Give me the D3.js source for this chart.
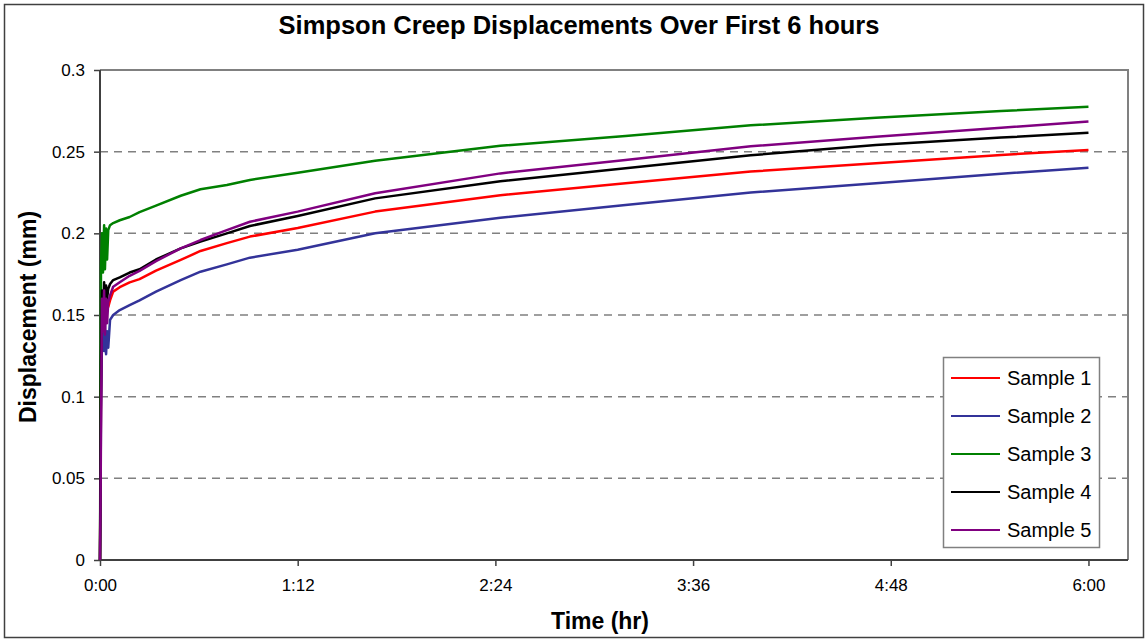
<!DOCTYPE html>
<html>
<head>
<meta charset="utf-8">
<script src="https://cdn.jsdelivr.net/npm/d3@7"></script>
<style>
  body { margin: 0; background: #fff; }
  svg { font-family: "Liberation Sans", Arial, sans-serif; }
</style>
</head>
<body>
<svg width="1148" height="642"></svg>
<script>
// time in hours
const times = [0, 0.003, 0.006, 0.012, 0.018, 0.025, 0.03, 0.037, 0.043, 0.05, 0.061, 0.08, 0.12, 0.18,
  0.24, 0.34, 0.49, 0.61, 0.77, 0.91, 1.2, 1.67, 2.43, 3.19, 3.95, 4.71, 5.47, 6.0];

const sample1 = [0, 0.05, 0.10, 0.14, 0.155, 0.15, 0.158, 0.152, 0.157, 0.155, 0.159, 0.1643, 0.167, 0.170,
  0.172, 0.1772, 0.1837, 0.1892, 0.194, 0.198, 0.2033, 0.2133, 0.2233, 0.2306, 0.2378, 0.2429, 0.248, 0.251];
const sample2 = [0, 0.04, 0.09, 0.135, 0.15, 0.128, 0.145, 0.126, 0.14, 0.13, 0.147, 0.150, 0.153, 0.156,
  0.159, 0.1643, 0.1714, 0.1765, 0.181, 0.1851, 0.190, 0.200, 0.2095, 0.2173, 0.225, 0.2306, 0.2365, 0.2402];
const sample3 = [0, 0.09, 0.18, 0.20, 0.176, 0.205, 0.178, 0.203, 0.184, 0.202, 0.205, 0.2063, 0.208, 0.210,
  0.213, 0.217, 0.223, 0.227, 0.2296, 0.2327, 0.2371, 0.2445, 0.2536, 0.2596, 0.2661, 0.2708, 0.2749, 0.2775];
const sample4 = [0, 0.06, 0.12, 0.165, 0.145, 0.17, 0.155, 0.168, 0.16, 0.166, 0.169, 0.1714, 0.173, 0.176,
  0.178, 0.184, 0.1908, 0.1949, 0.200, 0.2045, 0.2106, 0.2214, 0.2319, 0.2398, 0.2478, 0.2541, 0.2586, 0.2616];
const sample5 = [0, 0.03, 0.08, 0.16, 0.14, 0.165, 0.138, 0.16, 0.145, 0.158, 0.162, 0.1673, 0.170, 0.174,
  0.177, 0.183, 0.1908, 0.1959, 0.202, 0.2071, 0.2133, 0.2245, 0.2367, 0.2449, 0.2533, 0.2592, 0.2647, 0.2684];

const seriesNames = ['Sample 1', 'Sample 2', 'Sample 3', 'Sample 4', 'Sample 5'];
const seriesColors = ['#ff0000', '#333399', '#008000', '#000000', '#800080'];
const seriesValues = [sample1, sample2, sample3, sample4, sample5];

const xTicks = [0, 1.2, 2.4, 3.6, 4.8, 6.0];
const xTickLabels = ['0:00', '1:12', '2:24', '3:36', '4:48', '6:00'];
const yTicks = [0, 0.05, 0.1, 0.15, 0.2, 0.25, 0.3];

const svg = d3.select('svg');

const plotLeft = 100, plotRight = 1128, plotTop = 70, plotBottom = 560;

let x = d3.scaleLinear().domain([0, 6.24]).range([plotLeft, plotRight]);
let y = d3.scaleLinear().domain([0, 0.3]).range([plotBottom, plotTop]);

// outer frame
svg.append('rect')
  .attr('x', 4.5).attr('y', 4.5)
  .attr('width', 1139).attr('height', 633)
  .attr('fill', 'none')
  .attr('stroke', '#404040')
  .attr('stroke-width', 1.5);

// title
svg.append('text')
  .attr('x', 579).attr('y', 34)
  .attr('text-anchor', 'middle')
  .style('font-size', '25.5px')
  .style('font-weight', 'bold')
  .text('Simpson Creep Displacements Over First 6 hours');

// gridlines
svg.append('g')
  .selectAll('line')
  .data(yTicks.filter(v => v > 0 && v < 0.3))
  .enter().append('line')
  .attr('x1', plotLeft).attr('x2', plotRight)
  .attr('y1', d => y(d)).attr('y2', d => y(d))
  .attr('stroke', '#808080')
  .attr('stroke-width', 1.5)
  .attr('stroke-dasharray', '8,6');

// plot border top and right
svg.append('path')
  .attr('d', `M${plotLeft},${plotTop}H${plotRight}V${plotBottom}`)
  .attr('fill', 'none')
  .attr('stroke', '#808080')
  .attr('stroke-width', 2);

// axes
let yAxis = svg.append('g')
  .attr('transform', `translate(${plotLeft},0)`)
  .call(d3.axisLeft(y).tickValues(yTicks).tickSize(6).tickPadding(9).tickFormat(d3.format('')));

let xAxis = svg.append('g')
  .attr('transform', `translate(0,${plotBottom})`)
  .call(d3.axisBottom(x).tickValues(xTicks).tickSize(6).tickPadding(13)
    .tickFormat((d, i) => xTickLabels[i]));

[yAxis, xAxis].forEach(a => {
  a.select('.domain').attr('stroke', '#404040').attr('stroke-width', 2);
  a.selectAll('.tick line').attr('stroke', '#404040').attr('stroke-width', 1.5);
  a.selectAll('.tick text')
    .attr('fill', '#000')
    .style('font-size', '17px')
    .style('font-family', '"Liberation Sans", Arial, sans-serif');
});
xAxis.select('.domain').attr('d', `M${plotLeft},0H${plotRight}`);
yAxis.select('.domain').attr('d', `M0,${plotTop}V${plotBottom}`);

// axis titles
svg.append('text')
  .attr('x', 600).attr('y', 629)
  .attr('text-anchor', 'middle')
  .style('font-size', '23px')
  .style('font-weight', 'bold')
  .text('Time (hr)');

svg.append('text')
  .attr('transform', 'translate(36,317) rotate(-90)')
  .attr('text-anchor', 'middle')
  .style('font-size', '23px')
  .style('font-weight', 'bold')
  .text('Displacement (mm)');

// series
let line = d3.line()
  .x((d, i) => x(times[i]))
  .y(d => y(d));

svg.append('g')
  .selectAll('path')
  .data(seriesValues)
  .enter().append('path')
  .attr('d', d => line(d))
  .attr('fill', 'none')
  .attr('stroke', (d, i) => seriesColors[i])
  .attr('stroke-width', 2.5)
  .attr('stroke-linejoin', 'round');

// legend
let legend = svg.append('g');
legend.append('rect')
  .attr('x', 943.5).attr('y', 357.5)
  .attr('width', 156).attr('height', 190)
  .attr('fill', '#fff')
  .attr('stroke', '#808080')
  .attr('stroke-width', 1.5);

let items = legend.selectAll('.item')
  .data(seriesNames)
  .enter().append('g')
  .attr('class', 'item')
  .attr('transform', (d, i) => `translate(0,${378 + i * 38})`);

items.append('line')
  .attr('x1', 951).attr('x2', 1000)
  .attr('stroke', (d, i) => seriesColors[i])
  .attr('stroke-width', 2);

items.append('text')
  .attr('x', 1007).attr('y', 7)
  .style('font-size', '20px')
  .text(d => d);
</script>
</body>
</html>
